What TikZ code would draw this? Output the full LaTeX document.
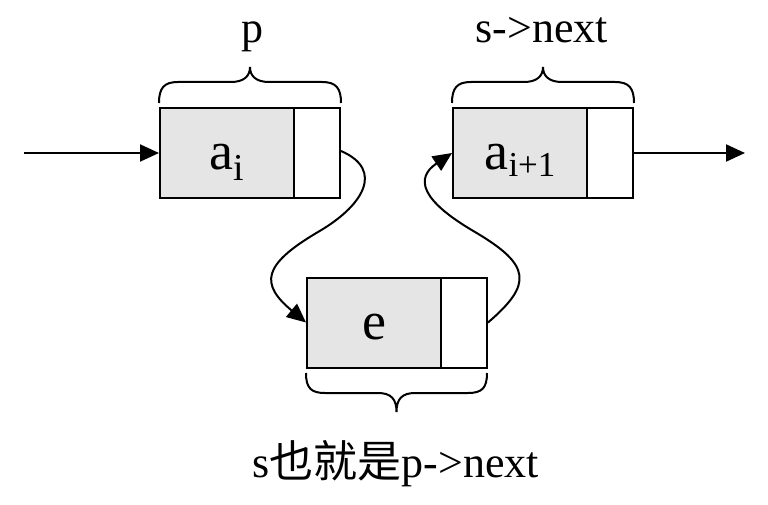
\documentclass[tikz,border=0pt]{standalone}
\usepackage{fontspec}
\setmainfont{Liberation Serif}
\newfontfamily\cjk{Noto Sans CJK SC}
\usetikzlibrary{arrows.meta}
\begin{document}
\begin{tikzpicture}[x=1pt,y=-1pt, line width=2pt,
  data/.style={draw, fill=gray!20, minimum width=134pt, minimum height=90pt, inner sep=0pt,
    text height=34pt, text depth=0pt, font=\fontsize{54}{60}\selectfont},
  ptr/.style={draw, fill=white, minimum width=46pt, minimum height=90pt, inner sep=0pt},
  lbl/.style={font=\fontsize{44}{52}\selectfont, inner sep=0pt, anchor=base},
  arr/.style={-{Triangle[length=19pt,width=17pt]}},
  brc/.style={line width=2pt}]
\useasboundingbox (0,0) rectangle (768,505);
% boxes
\node[data] (ai) at (227,153) {a\raisebox{-11pt}{\fontsize{38}{42}\selectfont i}};
\node[ptr] (aip) at (317,153) {};
\node[data] (b) at (520,153) {a\raisebox{-7pt}{\fontsize{35}{40}\selectfont i+1}};
\node[ptr] (bp) at (610,153) {};
\node[data] (e) at (374,322.5) {e};
\node[ptr] (ep) at (464,322.5) {};
% labels
\node[lbl] (plbl) at (252,43) {p};
\node[lbl] (snext) at (542,43) {s->next};
\node[lbl] (bot) at (396,477) {s{\cjk 也就是}p->next};
% braces
\draw[brc] (159,103) .. controls (159,88) and (164,82) .. (178,82) -- (231,82)
  .. controls (244,82) and (250,76) .. (250,67)
  .. controls (250,76) and (256,82) .. (269,82) -- (322,82)
  .. controls (336,82) and (341,88) .. (341,103);
\draw[brc] (452,103) .. controls (452,88) and (457,82) .. (471,82) -- (524,82)
  .. controls (537,82) and (543,76) .. (543,67)
  .. controls (543,76) and (549,82) .. (562,82) -- (615,82)
  .. controls (629,82) and (634,88) .. (634,103);
\draw[brc] (306,373) .. controls (306,388) and (311,393) .. (325,393) -- (378,393)
  .. controls (391,393) and (396.5,399) .. (396.5,412)
  .. controls (396.5,399) and (402,393) .. (415,393) -- (468,393)
  .. controls (482,393) and (487,388) .. (487,373);
% connectors
\coordinate (start) at (24,153);
\coordinate (end) at (745,153);
\coordinate (c1) at (318,232);
\coordinate (c2) at (475,232);
\draw[arr] (start) -- (ai.west);
\draw[arr] (bp.east) -- (end);
\draw[arr] ([yshift=2pt]aip.east) .. controls (385,170) and (363,206) .. (c1)
  .. controls (262,265) and (260,284) .. (e.west);
\draw[arr] (ep.east) .. controls (533,284) and (531,265) .. (c2)
  .. controls (420,200) and (415,178) .. (b.west);
\end{tikzpicture}
\end{document}
